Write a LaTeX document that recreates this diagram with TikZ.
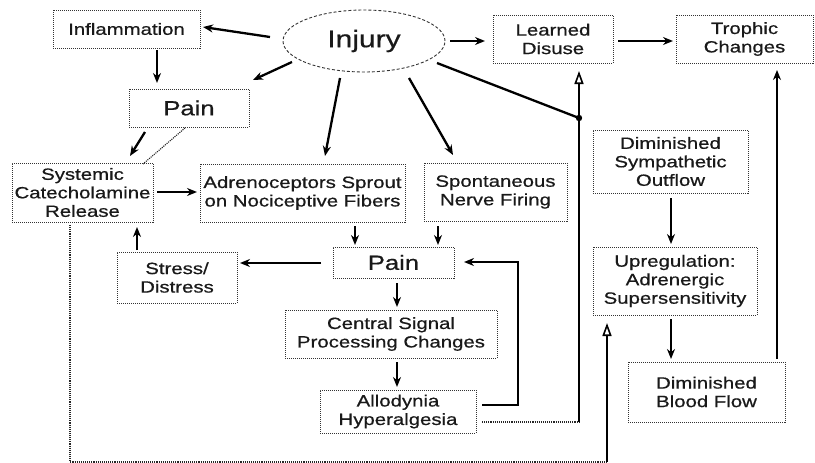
\documentclass[tikz,border=0pt]{standalone}
\usepackage{fontspec}
\setmainfont[FakeStretch=1.25,FakeBold=0.6]{Liberation Sans}
\usetikzlibrary{arrows.meta,calc,shapes.geometric}
\tikzset{
  box/.style={draw=black!80, densely dotted, line width=1pt, inner sep=0pt,
    align=center, font=\fontsize{16.3}{18.5}\selectfont, text=black!90},
  bigbox/.style={box, font=\fontsize{20.5}{24}\selectfont},
  oval/.style={draw=black!80, densely dashed, line width=0.9pt, ellipse, inner sep=0pt,
    font=\fontsize{24}{28}\selectfont, text=black!90},
  arr/.style={line width=2.3pt, -{Stealth[length=10pt,width=8pt]}},
  oarr/.style={line width=2.3pt, -{Triangle[open,length=13pt,width=9pt,line width=1.6pt]}},
  lnk/.style={line width=2.3pt},
  dlnk/.style={draw=black!85, densely dotted, line width=1.1pt},
}
\begin{document}
\begin{tikzpicture}[x=1pt,y=-1pt]
\useasboundingbox (0,0) rectangle (815,463);
% nodes
\node[box, minimum width=147pt, minimum height=38pt] (infl) at (126.5,29) {Inflammation};
\node[oval, minimum width=162pt, minimum height=62pt] (injury) at (364,41) {Injury};
\node[box, minimum width=120pt, minimum height=48pt] (disuse) at (553,39) {Learned\\Disuse};
\node[box, minimum width=137pt, minimum height=48pt] (trophic) at (744.5,39) {Trophic\\Changes};
\node[bigbox, minimum width=120pt, minimum height=38pt] (pain1) at (189,108) {Pain};
\node[box, minimum width=141pt, minimum height=59pt] (syst) at (82.5,192.5) {Systemic\\Catecholamine\\Release};
\node[box, minimum width=205pt, minimum height=58pt] (adreno) at (302.5,193) {Adrenoceptors Sprout\\on Nociceptive Fibers};
\node[box, minimum width=143pt, minimum height=58pt] (spont) at (495.5,192) {Spontaneous\\Nerve Firing};
\node[box, minimum width=120pt, minimum height=51pt] (stress) at (177,277.5) {Stress/\\Distress};
\node[bigbox, minimum width=121pt, minimum height=31pt] (pain2) at (393.5,262.5) {Pain};
\node[box, minimum width=212pt, minimum height=48pt] (central) at (391,334) {Central Signal\\Processing Changes};
\node[box, minimum width=156pt, minimum height=43pt] (allo) at (398,411.5) {Allodynia\\Hyperalgesia};
\node[box, minimum width=155pt, minimum height=63pt] (dso) at (670.5,161.5) {Diminished\\Sympathetic\\Outflow};
\node[box, minimum width=164pt, minimum height=68pt] (upreg) at (675,281) {Upregulation:\\Adrenergic\\Supersensitivity};
\node[box, minimum width=157pt, minimum height=60pt] (dbf) at (706.5,392) {Diminished\\Blood Flow};
% free corners
\coordinate (jn) at (579,118);
\coordinate (c1) at (579,422);
\coordinate (c2) at (70,462);
\coordinate (c3) at (607,462);
% connectors
\draw[arr] ($(injury)+(-94,-4)$) -- ($(infl)+(76.5,-2)$);
\draw[arr] ($(infl)+(30.5,21)$) -- ($(pain1)+(-32,-25)$);
\draw[arr] ($(injury)+(-72,21)$) -- ($(pain1)+(64,-28)$);
\draw[arr] ($(pain1)+(-44,24)$) -- ($(syst)+(47.5,-36.5)$);
\draw[dlnk] ($(pain1)+(-4,20)$) -- ($(syst)+(60.5,-28.5)$);
\draw[arr] ($(injury)+(-24,37)$) -- ($(adreno)+(22.5,-37)$);
\draw[arr] ($(injury)+(45,37)$) -- ($(spont)+(-42.5,-37)$);
\draw[lnk] ($(injury)+(73,22)$) -- (jn);
\fill (jn) circle (3.2pt);
\draw[arr] ($(injury)+(86,0)$) -- ($(disuse)+(-68,2)$);
\draw[arr] ($(disuse)+(65,2)$) -- ($(trophic)+(-71.5,2)$);
\draw[arr] ($(syst)+(74.5,-0.5)$) -- ($(adreno)+(-105.5,-1)$);
\draw[arr] ($(adreno)+(52.5,33)$) -- ($(pain2)+(-38.5,-17.5)$);
\draw[arr] ($(spont)+(-57.5,34)$) -- ($(pain2)+(44.5,-17.5)$);
\draw[arr] ($(pain2)+(-72.5,0.5)$) -- ($(stress)+(63,-14.5)$);
\draw[arr] ($(stress)+(-40,-27.5)$) -- ($(syst)+(54.5,34.5)$);
\draw[arr] ($(pain2)+(3.5,20.5)$) -- ($(central)+(6,-27)$);
\draw[arr] ($(central)+(6,28)$) -- ($(allo)+(-1,-24.5)$);
\draw[arr] ($(allo)+(84,-6.5)$) -- ++(36,0) |- ($(pain2)+(70.5,-0.5)$);
\draw[dlnk] ($(allo)+(84,10.5)$) -- (c1);
\draw[oarr] (c1) -- ($(disuse)+(26,32)$);
\draw[dlnk] ($(syst)+(-12.5,32.5)$) -- (c2) -- (c3);
\draw[oarr] (c3) -- ($(upreg)+(-68,42)$);
\draw[arr] ($(dso)+(0.5,36.5)$) -- ($(upreg)+(-4,-37)$);
\draw[arr] ($(upreg)+(-4,38)$) -- ($(dbf)+(-35.5,-33)$);
\draw[arr] ($(dbf)+(70.5,-33)$) -- ($(trophic)+(32.5,31)$);
\end{tikzpicture}
\end{document}
